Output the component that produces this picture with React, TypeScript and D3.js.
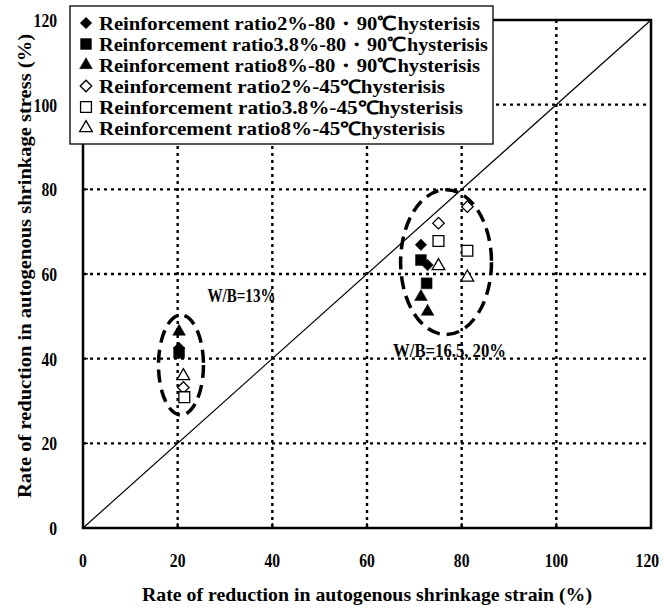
import React from "react";
import * as d3 from "d3";

// Axis ticks
const xTicks = [0, 20, 40, 60, 80, 100, 120];
const yTicks = [0, 20, 40, 60, 80, 100, 120];
const gridValues = [20, 40, 60, 80, 100];

// Series (x = strain reduction %, y = stress reduction %)
const seriesLabels = [
  "Reinforcement ratio2%-80・90℃hysterisis",
  "Reinforcement ratio3.8%-80・90℃hysterisis",
  "Reinforcement ratio8%-80・90℃hysterisis",
  "Reinforcement ratio2%-45℃hysterisis",
  "Reinforcement ratio3.8%-45℃hysterisis",
  "Reinforcement ratio8%-45℃hysterisis",
];
const seriesShapes = ["diamond", "square", "triangle", "diamond", "square", "triangle"];
const seriesFilled = [true, true, true, false, false, false];

const ratio2Hot_X = [20.3, 71.4, 72.8];
const ratio2Hot_Y = [42.5, 66.9, 62.1];
const ratio38Hot_X = [20.3, 71.4, 72.6];
const ratio38Hot_Y = [41.4, 63.3, 57.8];
const ratio8Hot_X = [20.3, 71.4, 72.8];
const ratio8Hot_Y = [46.4, 54.6, 51.1];
const ratio2Warm_X = [21.2, 75.1, 81.2];
const ratio2Warm_Y = [33.2, 72.0, 75.9];
const ratio38Warm_X = [21.4, 75.1, 81.2];
const ratio38Warm_Y = [30.9, 67.8, 65.5];
const ratio8Warm_X = [21.2, 75.1, 81.2];
const ratio8Warm_Y = [35.9, 61.9, 59.2];

const seriesX = [ratio2Hot_X, ratio38Hot_X, ratio8Hot_X, ratio2Warm_X, ratio38Warm_X, ratio8Warm_X];
const seriesY = [ratio2Hot_Y, ratio38Hot_Y, ratio8Hot_Y, ratio2Warm_Y, ratio38Warm_Y, ratio8Warm_Y];

// Group outlines (center x, center y, radius x, radius y, in data units)
const groupCx = [20.7, 76.7];
const groupCy = [38.5, 62.8];
const groupRx = [4.75, 9.6];
const groupRy = [11.8, 17.1];
const groupLabels = ["W/B=13%", "W/B=16.5, 20%"];
const groupLabelX = [26.3, 65.5];
const groupLabelY = [53.3, 40.3];

const W = 664;
const H = 610;
const plot = { left: 83, right: 651, top: 20, bottom: 528 };
const FONT = "'Liberation Serif', 'Times New Roman', serif";
const legendTextWidths = [381, 389, 381, 346, 364, 346];
const groupLabelWidths = [68, 113];

function markerPath(shape: string): string {
  if (shape === "square") return d3.symbol(d3.symbolSquare, 118)() as string;
  if (shape === "triangle") return d3.symbol(d3.symbolTriangle, 70)() as string;
  // diamond: a square turned 45 degrees
  return d3.symbol(d3.symbolSquare, 66)() as string;
}

function Marker({ shape, filled, x, y }: { shape: string; filled: boolean; x: number; y: number }) {
  const rot = shape === "diamond" ? 45 : 0;
  return (
    <path
      d={markerPath(shape)}
      transform={`translate(${x},${y}) rotate(${rot})`}
      fill={filled ? "#000" : "#fff"}
      stroke="#000"
      strokeWidth={filled ? 0.5 : 1.3}
    />
  );
}

export default function App() {
  const x = d3.scaleLinear().domain([0, 120]).range([plot.left, plot.right]);
  const y = d3.scaleLinear().domain([0, 120]).range([plot.bottom, plot.top]);

  const legend = { left: 70, top: 6, right: 493, bottom: 144 };
  const rowY = (i: number) => 23 + i * 21;
  const numWidth = (v: number) => String(v).length * 7.8;
  // keep the last x label inside the page
  const xLabelLeft = (v: number) => Math.min(x(v) - numWidth(v) / 2, W - numWidth(v) - 5);

  return (
    <svg
      width={W}
      height={H}
      viewBox={`0 0 ${W} ${H}`}
      style={{ position: "absolute", left: 0, top: 0, background: "#fff" }}
      fontFamily={FONT}
      fontWeight="bold"
    >
      <rect x={0} y={0} width={W} height={H} fill="#fff" />

      {/* dotted grid */}
      {gridValues.map((v) => (
        <line
          key={`gx${v}`}
          x1={x(v)}
          x2={x(v)}
          y1={plot.top}
          y2={plot.bottom}
          stroke="#000"
          strokeWidth={2.4}
          strokeDasharray="3 4"
        />
      ))}
      {gridValues.map((v) => (
        <line
          key={`gy${v}`}
          x1={plot.left}
          x2={plot.right}
          y1={y(v)}
          y2={y(v)}
          stroke="#000"
          strokeWidth={2.4}
          strokeDasharray="3 4"
        />
      ))}

      {/* 1:1 reference line */}
      <line x1={x(0)} y1={y(0)} x2={x(120)} y2={y(120)} stroke="#000" strokeWidth={1.2} />

      {/* inward ticks */}
      {xTicks.map((v) => (
        <line key={`tx${v}`} x1={x(v)} x2={x(v)} y1={plot.bottom} y2={plot.bottom - 5} stroke="#000" strokeWidth={1.5} />
      ))}
      {yTicks.map((v) => (
        <line key={`ty${v}`} x1={plot.left} x2={plot.left + 5} y1={y(v)} y2={y(v)} stroke="#000" strokeWidth={1.5} />
      ))}

      {/* frame */}
      <rect
        x={plot.left}
        y={plot.top}
        width={plot.right - plot.left}
        height={plot.bottom - plot.top}
        fill="none"
        stroke="#000"
        strokeWidth={2.5}
      />

      {/* dashed group outlines */}
      {groupCx.map((cx, i) => (
        <ellipse
          key={`e${i}`}
          cx={x(cx)}
          cy={y(groupCy[i])}
          rx={x(groupRx[i]) - x(0)}
          ry={y(0) - y(groupRy[i])}
          fill="none"
          stroke="#000"
          strokeWidth={3.5}
          strokeDasharray="13 7"
        />
      ))}

      {/* data markers */}
      {seriesX.map((xs, s) =>
        xs.map((xv, j) => (
          <Marker
            key={`m${s}-${j}`}
            shape={seriesShapes[s]}
            filled={seriesFilled[s]}
            x={x(xv)}
            y={y(seriesY[s][j])}
          />
        ))
      )}

      {/* group labels */}
      {groupLabels.map((t, i) => (
        <text
          key={`gl${i}`}
          x={x(groupLabelX[i])}
          y={y(groupLabelY[i])}
          fontSize={18}
          textLength={groupLabelWidths[i]}
          lengthAdjust="spacingAndGlyphs"
        >
          {t}
        </text>
      ))}

      {/* tick labels */}
      {xTicks.map((v) => (
        <text
          key={`xl${v}`}
          x={xLabelLeft(v)}
          y={567}
          fontSize={19}
          textLength={numWidth(v)}
          lengthAdjust="spacingAndGlyphs"
        >
          {v}
        </text>
      ))}
      {yTicks.map((v) => (
        <text
          key={`yl${v}`}
          x={57 - numWidth(v)}
          y={y(v) + 7}
          fontSize={19}
          textLength={numWidth(v)}
          lengthAdjust="spacingAndGlyphs"
        >
          {v}
        </text>
      ))}

      {/* axis titles */}
      <text
        x={(plot.left + plot.right) / 2 - 225}
        y={601}
        fontSize={19}
        textLength={450}
        lengthAdjust="spacingAndGlyphs"
      >
        Rate of reduction in autogenous shrinkage strain (%)
      </text>
      <text
        transform={`translate(31,${266 + 232}) rotate(-90)`}
        fontSize={19}
        textLength={464}
        lengthAdjust="spacingAndGlyphs"
      >
        Rate of reduction in autogenous shrinkage stress (%)
      </text>

      {/* legend */}
      <rect
        x={legend.left}
        y={legend.top}
        width={legend.right - legend.left}
        height={legend.bottom - legend.top}
        fill="#fff"
        stroke="#000"
        strokeWidth={1.3}
      />
      {seriesLabels.map((label, i) => (
        <g key={`lg${i}`}>
          <Marker shape={seriesShapes[i]} filled={seriesFilled[i]} x={86} y={rowY(i)} />
          <text
            x={99}
            y={rowY(i) + 6.5}
            fontSize={18.5}
            textLength={legendTextWidths[i]}
            lengthAdjust="spacingAndGlyphs"
          >
            {label}
          </text>
        </g>
      ))}
    </svg>
  );
}
